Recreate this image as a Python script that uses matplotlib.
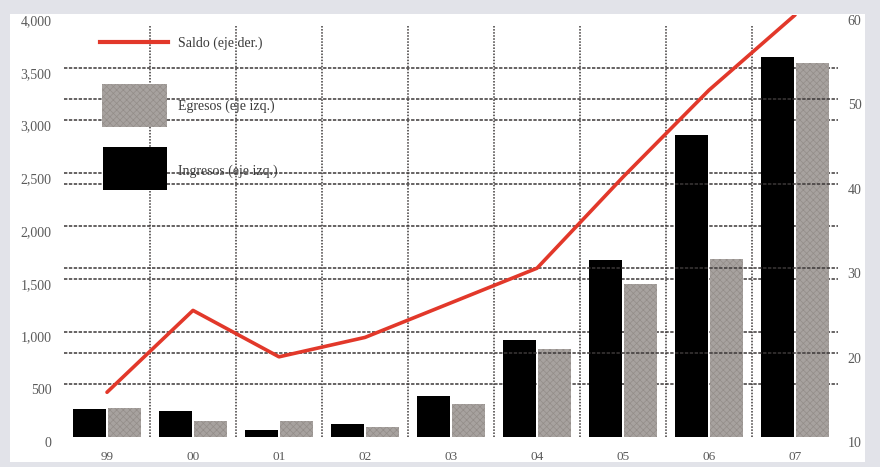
import matplotlib
matplotlib.use("Agg")
import matplotlib.pyplot as plt
import matplotlib.transforms as mtransforms
from matplotlib.patches import Rectangle
from matplotlib.lines import Line2D

categories = ["99", "00", "01", "02", "03", "04", "05", "06", "07"]
ingresos = [265, 246, 70, 123, 389, 920, 1678, 2862, 3602]
egresos = [275, 152, 152, 95, 313, 834, 1450, 1687, 3545]
indice = [15.3, 25.0, 19.5, 21.8, 25.9, 30.0, 40.8, 51.1, 60.0]
left_ticks = [0, 500, 1000, 1500, 2000, 2500, 3000, 3500, 4000]
left_labels = ["0", "500", "1,000", "1,500", "2,000", "2,500", "3,000", "3,500", "4,000"]
right_ticks = [10, 20, 30, 40, 50, 60]
right_labels = ["10", "20", "30", "40", "50", "60"]
legend_labels = ["Saldo (eje der.)", "Egresos (eje izq.)", "Ingresos (eje izq.)"]

plt.rcParams['font.family'] = ['Liberation Serif', 'DejaVu Serif']
plt.rcParams['hatch.color'] = "#938d89"
plt.rcParams['hatch.linewidth'] = 0.5

W, H = 880, 467
fig = plt.figure(figsize=(W / 100, H / 100), dpi=100, facecolor="#e2e3e9")
fig.patches.append(Rectangle((10 / W, (H - 462) / H), (865 - 10) / W, (462 - 14) / H,
                             transform=fig.transFigure, facecolor="white",
                             edgecolor="none", zorder=-10))

ax = fig.add_axes([64 / W, 30 / H, 774 / W, 422 / H])
ax.set_facecolor("none")
ax2 = ax.twinx()

x = list(range(len(categories)))
w = 0.38
ax.bar([i - 0.2 for i in x], ingresos, width=w, color="black", zorder=3)
ax.bar([i + 0.2 for i in x], egresos, width=w, color="#a7a29f", edgecolor="#938d89",
       hatch="xxxxx", linewidth=0, zorder=3)

ax.set_xlim(-0.5, 8.5)
ax.set_ylim(0, 4000)
ax2.set_ylim(10, 60)

grid_c = "#3c3838"
for t in left_ticks[1:-1]:
    ax.axhline(t, color=grid_c, lw=1.1, ls=(0, (2.2, 1.0)), zorder=1)
for t in right_ticks[1:-1]:
    ax2.axhline(t, color=grid_c, lw=1.1, ls=(0, (2.2, 1.0)), zorder=1)
for b in [i + 0.5 for i in x[:-1]]:
    ax.axvline(b, ymin=0, ymax=0.976, color=grid_c, lw=1.1, ls=(0, (1, 1)), zorder=1)

ax2.plot(x, indice, color="#e2382a", lw=2.6, zorder=4, solid_capstyle="round")

lab_c = "#5a5a5a"
ax.set_yticks(left_ticks)
ax.set_yticklabels(left_labels)
ax2.set_yticks(right_ticks)
ax2.set_yticklabels(right_labels)
ax.set_xticks(x)
ax.set_xticklabels(categories)
ax.tick_params(axis="y", length=0, pad=9, labelsize=10, labelcolor=lab_c)
ax2.tick_params(axis="y", length=0, pad=7, labelsize=10, labelcolor=lab_c)
ax.tick_params(axis="x", length=0, pad=10, labelsize=9.5, labelcolor=lab_c)
off = mtransforms.ScaledTranslation(0, -5 / 100, fig.dpi_scale_trans)
for lab in ax.get_yticklabels() + ax2.get_yticklabels():
    lab.set_transform(lab.get_transform() + off)
for s in list(ax.spines.values()) + list(ax2.spines.values()):
    s.set_visible(False)

ax.set_zorder(ax2.get_zorder() - 1)
ax2.patch.set_visible(False)

# legend drawn in axes fraction coordinates
def fx(px):
    return (px - 64) / 774
def fy(py):
    return (437 - py) / 422

ax2.add_line(Line2D([fx(100), fx(168)], [fy(42), fy(42)], color="#e2382a", lw=3,
                    transform=ax2.transAxes, zorder=6, clip_on=False))
ax2.add_patch(Rectangle((fx(102), fy(127)), fx(167) - fx(102), fy(84) - fy(127),
                        transform=ax2.transAxes, facecolor="#a7a29f", edgecolor="#938d89",
                        hatch="xxxxx", linewidth=0, zorder=6))
ax2.add_patch(Rectangle((fx(103), fy(190)), fx(167) - fx(103), fy(147) - fy(190),
                        transform=ax2.transAxes, facecolor="black", edgecolor="none",
                        zorder=6))
for lbl, py in zip(legend_labels, [43, 106, 171]):
    ax2.text(fx(178), fy(py), lbl, transform=ax2.transAxes, fontsize=10,
             color="#3a3a3a", va="center", ha="left", zorder=6)

fig.savefig("out.png", dpi=100, facecolor=fig.get_facecolor())
